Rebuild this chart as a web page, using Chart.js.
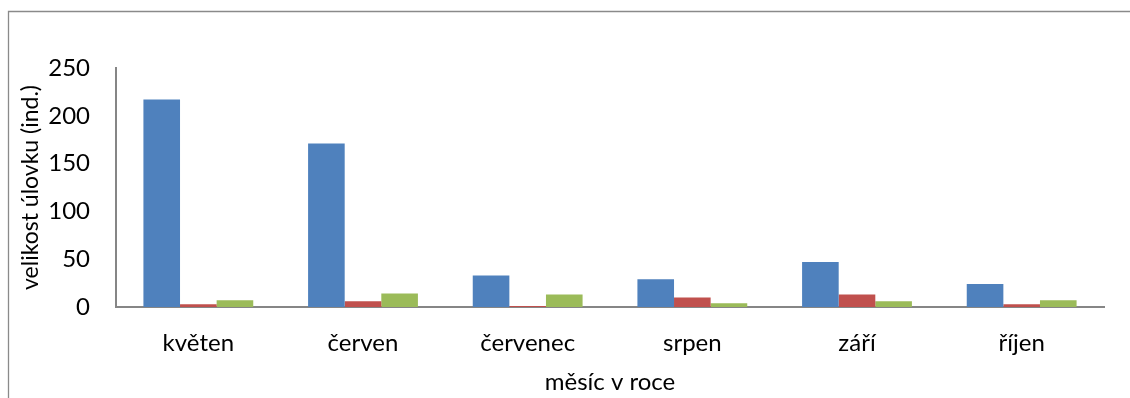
<!DOCTYPE html>
<html>
<head>
<meta charset="utf-8">
<script src="https://cdn.jsdelivr.net/npm/chart.js@4/dist/chart.umd.min.js"></script>
<style>
  html, body { margin: 0; padding: 0; background: #fff; }
  #wrap { position: relative; width: 1130px; height: 398px; }
</style>
</head>
<body>
<div id="wrap"><canvas id="c" width="1130" height="398"></canvas></div>
<script>
// Monthly catch size (individuals) for three groups
const months = ['květen', 'červen', 'červenec', 'srpen', 'září', 'říjen'];
const seriesA = [217, 171, 33, 29, 47, 24];
const seriesB = [3, 6, 1, 10, 13, 3];
const seriesC = [7, 14, 13, 4, 6, 7];
const yTicks = [0, 50, 100, 150, 200, 250];

const FONT = 'Lato';
const axisGray = '#868686';

// Frame around the chart area (top and left edges visible)
const framePlugin = {
  id: 'frame',
  beforeDraw(chart) {
    const ctx = chart.ctx;
    ctx.save();
    ctx.strokeStyle = '#8a8a8a';
    ctx.lineWidth = 1.3;
    ctx.beginPath();
    ctx.moveTo(8.5, 400);
    ctx.lineTo(8.5, 11.5);
    ctx.lineTo(1140, 11.5);
    ctx.stroke();
    ctx.restore();
  }
};

new Chart(document.getElementById('c'), {
  type: 'bar',
  data: {
    labels: months,
    datasets: [
      { data: seriesA, backgroundColor: '#4F81BD' },
      { data: seriesB, backgroundColor: '#C0504D' },
      { data: seriesC, backgroundColor: '#9BBB59' }
    ]
  },
  options: {
    responsive: false,
    animation: false,
    devicePixelRatio: 1,
    layout: { padding: { left: 0, top: 68, right: 26, bottom: 0 } },
    datasets: { bar: { categoryPercentage: 0.667, barPercentage: 1.0 } },
    plugins: { legend: { display: false }, tooltip: { enabled: false } },
    scales: {
      x: {
        z: 1,
        grid: { display: false, drawTicks: false, tickLength: 0 },
        border: { display: true, color: axisGray, width: 2 },
        ticks: { color: '#000', padding: 22, font: { family: FONT, size: 24 } },
        title: { display: true, text: 'měsíc v roce', color: '#000', font: { family: FONT, size: 24 }, padding: { top: 0, bottom: 1 } },
        afterFit(scale) { scale.height = 91; }
      },
      y: {
        min: 0,
        max: 250,
        afterBuildTicks(scale) { scale.ticks = yTicks.map(v => ({ value: v })); },
        grid: { display: false, drawTicks: false, tickLength: 0 },
        border: { display: true, color: axisGray, width: 2 },
        ticks: { color: '#000', padding: 26, font: { family: FONT, size: 24 } },
        title: { display: true, text: 'velikost úlovku (ind.)', color: '#000', font: { family: FONT, size: 23 }, padding: { top: 17, bottom: 0 } },
        afterFit(scale) { scale.width = 116; }
      }
    }
  },
  plugins: [framePlugin]
});
</script>
</body>
</html>
